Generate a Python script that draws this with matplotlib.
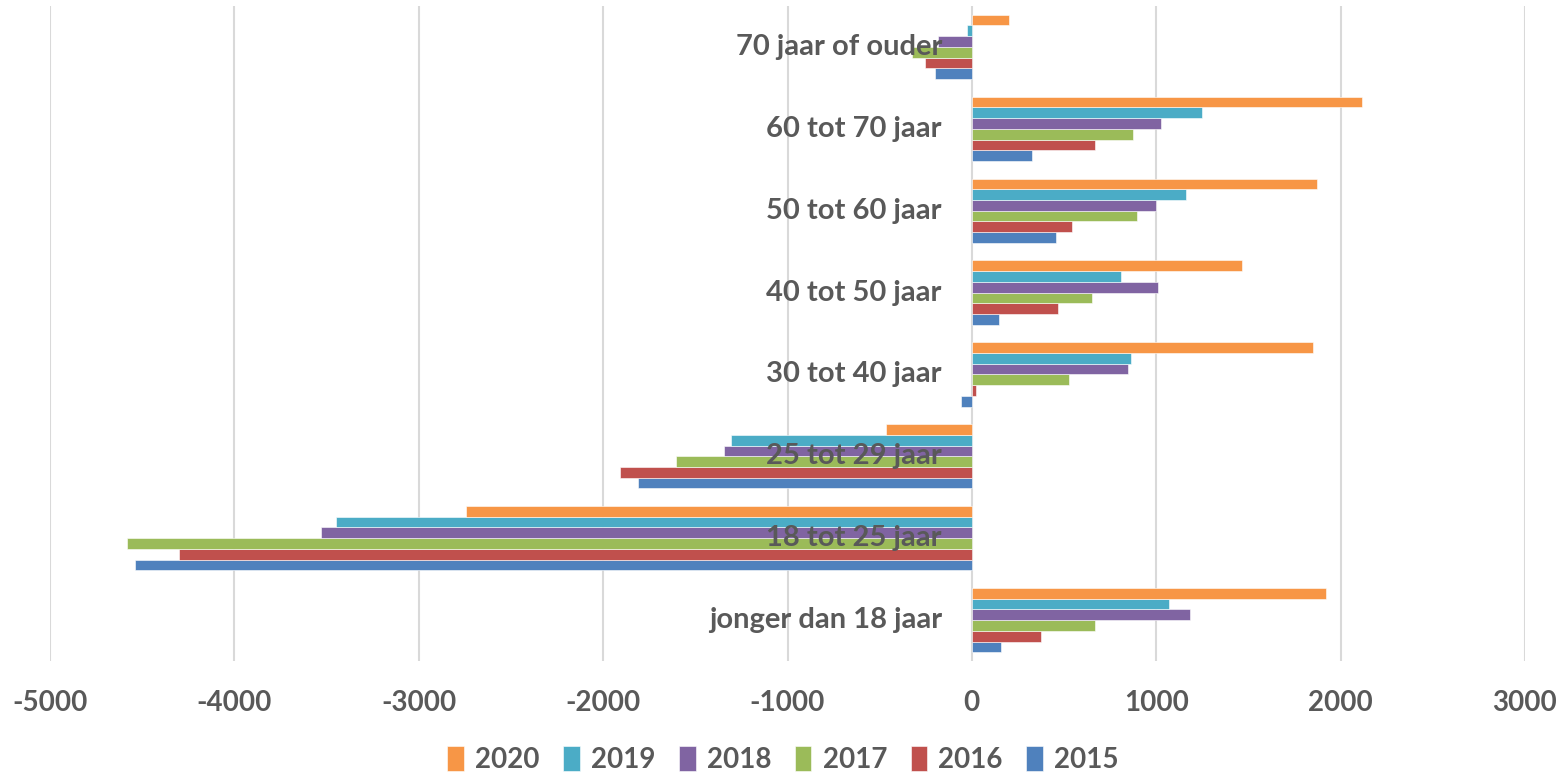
import numpy as np
import matplotlib
matplotlib.use("Agg")
import matplotlib.pyplot as plt

# leeftijdsgroepen, van onder naar boven
categories = ["jonger dan 18 jaar", "18 tot 25 jaar", "25 tot 29 jaar", "30 tot 40 jaar",
              "40 tot 50 jaar", "50 tot 60 jaar", "60 tot 70 jaar", "70 jaar of ouder"]
years = ["2015", "2016", "2017", "2018", "2019", "2020"]

v2015 = [156, -4537, -1811, -58, 148, 456, 326, -200]
v2016 = [373, -4298, -1910, 25, 465, 544, 669, -255]
v2017 = [669, -4582, -1606, 528, 649, 893, 872, -325]
v2018 = [1181, -3530, -1347, 845, 1011, 1000, 1024, -185]
v2019 = [1069, -3447, -1304, 861, 807, 1161, 1246, -25]
v2020 = [1921, -2742, -465, 1852, 1463, 1870, 2118, 200]
series = [v2015, v2016, v2017, v2018, v2019, v2020]

colors = ["#4F81BD", "#C0504D", "#9BBB59", "#8064A2", "#4BACC6", "#F79646"]
text_col = "#595959"
font = "Lato"

fig = plt.figure(figsize=(15.66, 7.77), dpi=100)
ax = fig.add_axes([50 / 1566, 1 - 661 / 777, 1475 / 1566, 655 / 777])

y = np.arange(len(categories))
h = 0.131
bars = []
for k, (vals, c) in enumerate(zip(series, colors)):
    b = ax.barh(y + (k - 2.5) * h, vals, height=h, color=c, edgecolor="white",
                linewidth=0.4, zorder=2, label=years[k])
    bars.append(b)

ax.set_xlim(-5000, 3000)
ax.set_ylim(-0.5, len(categories) - 0.5)
ax.set_xticks(np.arange(-5000, 3001, 1000))
ax.set_xticklabels([str(t) for t in range(-5000, 3001, 1000)],
                   fontsize=20, fontweight="bold", color=text_col, family=font)
ax.set_yticks([])
ax.tick_params(axis="x", length=0, pad=21)
ax.grid(axis="x", color="#D9D9D9", linewidth=1.5, zorder=0)
for s in ax.spines.values():
    s.set_visible(False)

for i, cat in enumerate(categories):
    ax.annotate(cat, xy=(0, i), xytext=(-30, 0), textcoords="offset pixels",
                ha="right", va="center", fontsize=21, fontweight="bold",
                color=text_col, family=font, zorder=5)

leg = fig.legend(bars[::-1], years[::-1], loc="lower center", ncol=6,
                 bbox_to_anchor=(0.5, -0.027), frameon=False,
                 prop={"family": font, "weight": "bold", "size": 20},
                 handlelength=0.6, handleheight=1.0, handletextpad=0.4,
                 columnspacing=0.85)
for t in leg.get_texts():
    t.set_color(text_col)

fig.savefig("out.png", dpi=100)
